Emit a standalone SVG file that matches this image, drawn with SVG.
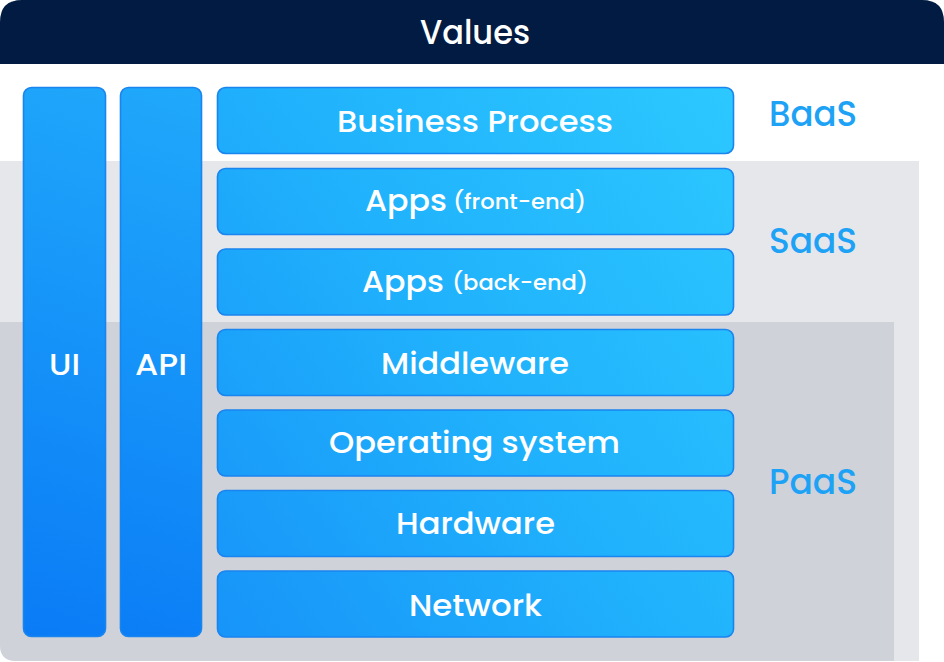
<svg xmlns="http://www.w3.org/2000/svg" width="944" height="662" viewBox="0 0 944 662">
  <defs>
    <linearGradient id="boxgrad" gradientUnits="userSpaceOnUse" x1="217" y1="637" x2="816" y2="199">
      <stop offset="0" stop-color="#1794f9"/>
      <stop offset="0.5" stop-color="#20b2fc"/>
      <stop offset="1" stop-color="#2cc8ff"/>
    </linearGradient>
    <linearGradient id="bargrad" gradientUnits="userSpaceOnUse" x1="23" y1="640" x2="202" y2="87">
      <stop offset="0" stop-color="#0a7bf6"/>
      <stop offset="1" stop-color="#20a9fb"/>
    </linearGradient>
    <clipPath id="frame">
      <path d="M0,22 Q0,0 22,0 H922 Q944,0 944,22 V662 H0 Z"/>
    </clipPath>
  </defs>
  <style>
    .box { fill: url(#boxgrad); stroke: #1a84ef; stroke-width: 1.6; }
    .bar { fill: url(#bargrad); stroke: #1a84ef; stroke-width: 1.6; }
    .t { font-family: Poppins, "Open Sans", "Noto Sans", sans-serif; font-weight: 500; fill: #ffffff; text-anchor: middle; }
    .big { font-size: 31px; }
    .small { font-size: 22px; }
    .tier { font-family: Poppins, "Open Sans", "Noto Sans", sans-serif; font-weight: 500; fill: #1ea2f5; font-size: 35px; }
  </style>
  <rect width="944" height="662" fill="#ffffff"/>
  <g id="background" clip-path="url(#frame)">
    <rect x="0" y="0" width="944" height="64" fill="#021b42"/>
    <path d="M0,161 H919 V661 H16 Q0,661 0,645 Z" fill="#e6e7eb"/>
    <path d="M0,322 H894 V661 H16 Q0,661 0,645 Z" fill="#cfd2d9"/>
  </g>
  <g id="values">
    <text class="t" x="475" y="44" font-size="34" textLength="110" lengthAdjust="spacingAndGlyphs">Values</text>
  </g>
  <g id="ui">
    <rect class="bar" x="23.5" y="87.5" width="82" height="549" rx="8"/>
    <text class="t big" x="64.5" y="375" textLength="31" lengthAdjust="spacingAndGlyphs">UI</text>
  </g>
  <g id="api">
    <rect class="bar" x="120.5" y="87.5" width="81" height="549" rx="8"/>
    <text class="t big" x="161" y="375" textLength="52" lengthAdjust="spacingAndGlyphs">API</text>
  </g>
  <g id="business-process">
    <rect class="box" x="217.5" y="87.5" width="516" height="66" rx="8"/>
    <text class="t big" x="475" y="132" textLength="276" lengthAdjust="spacingAndGlyphs">Business Process</text>
  </g>
  <g id="apps-front-end">
    <rect class="box" x="217.5" y="168.5" width="516" height="66" rx="8"/>
    <text class="t big" x="406" y="211" textLength="82" lengthAdjust="spacingAndGlyphs">Apps</text>
    <text class="t small" x="519.5" y="209" textLength="133" lengthAdjust="spacingAndGlyphs">(front-end)</text>
  </g>
  <g id="apps-back-end">
    <rect class="box" x="217.5" y="249" width="516" height="66" rx="8"/>
    <text class="t big" x="403" y="292" textLength="82" lengthAdjust="spacingAndGlyphs">Apps</text>
    <text class="t small" x="520" y="290" textLength="136" lengthAdjust="spacingAndGlyphs">(back-end)</text>
  </g>
  <g id="middleware">
    <rect class="box" x="217.5" y="329.5" width="516" height="66" rx="8"/>
    <text class="t big" x="475" y="374" textLength="188" lengthAdjust="spacingAndGlyphs">Middleware</text>
  </g>
  <g id="operating-system">
    <rect class="box" x="217.5" y="410" width="516" height="66" rx="8"/>
    <text class="t big" x="474.5" y="453" textLength="291" lengthAdjust="spacingAndGlyphs">Operating system</text>
  </g>
  <g id="hardware">
    <rect class="box" x="217.5" y="490.5" width="516" height="66" rx="8"/>
    <text class="t big" x="475.5" y="534" textLength="159" lengthAdjust="spacingAndGlyphs">Hardware</text>
  </g>
  <g id="network">
    <rect class="box" x="217.5" y="571" width="516" height="66" rx="8"/>
    <text class="t big" x="475.5" y="616" textLength="133" lengthAdjust="spacingAndGlyphs">Network</text>
  </g>
  <g id="tiers">
    <text class="tier" x="769" y="126" textLength="88" lengthAdjust="spacingAndGlyphs">BaaS</text>
    <text class="tier" x="769" y="253" textLength="88" lengthAdjust="spacingAndGlyphs">SaaS</text>
    <text class="tier" x="769" y="494" textLength="88" lengthAdjust="spacingAndGlyphs">PaaS</text>
  </g>
  <g id="connectors"></g>
</svg>
